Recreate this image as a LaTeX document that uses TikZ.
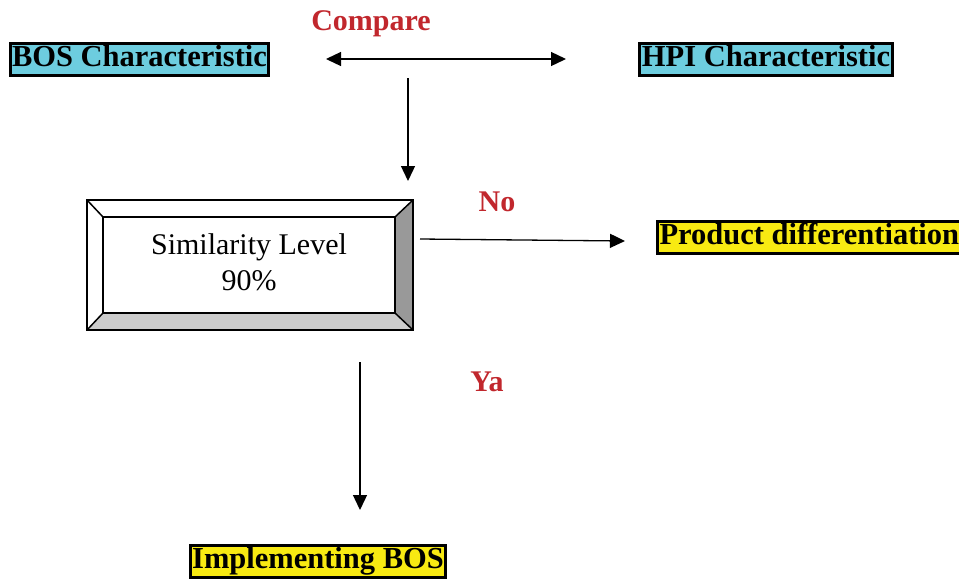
\documentclass[tikz,border=0pt]{standalone}
\usepackage{fontspec}
\setmainfont{Liberation Serif}
\usetikzlibrary{arrows.meta}

\definecolor{charcyan}{HTML}{6DCDDF}
\definecolor{resultyellow}{HTML}{F8EA12}
\definecolor{labelred}{HTML}{C1272D}

\begin{document}
\begin{tikzpicture}[x = 1pt, y = -1pt, > = {Triangle[length = 15pt, width = 14pt]},
	charbox/.style = {draw, line width = 3pt, fill = charcyan, font = \fontsize{30.5}{34}\selectfont\bfseries,
		text height = 22pt, text depth = 8pt, inner xsep = 2pt, inner ysep = 1pt},
	resultbox/.style = {charbox, fill = resultyellow},
	redlabel/.style = {text = labelred, font = \fontsize{30}{34}\selectfont\bfseries, inner sep = 0pt},
	flow/.style = {line width = 1.3pt, ->}]

	% Definitions

	\def\outl{87}		% outer frame of the similarity box
	\def\outr{413}
	\def\outt{200}
	\def\outb{330}
	\def\inl{103}		% inner face of the similarity box
	\def\inr{395}
	\def\intt{217}
	\def\inb{313}

	\useasboundingbox (0, 0) rectangle (959, 579);


	% Characteristics to be compared

	\node [charbox] (bos) at (139.5, 59) {BOS Characteristic};
	\node [charbox] (hpi) at (766, 59) {HPI Characteristic};
	\node [redlabel] (compare) at (371, 24) {Compare};

	\coordinate (cmpl) at (326, 59);
	\coordinate (cmpr) at (566, 59);
	\draw [flow, <->] (cmpl) -- (cmpr);


	% Similarity level box with bevelled frame

	\fill [white] (\outl, \outt) -- (\outr, \outt) -- (\inr, \intt) -- (\inl, \intt) -- cycle;
	\fill [white] (\outl, \outt) -- (\inl, \intt) -- (\inl, \inb) -- (\outl, \outb) -- cycle;
	\fill [black!40] (\outr, \outt) -- (\outr, \outb) -- (\inr, \inb) -- (\inr, \intt) -- cycle;
	\fill [black!20] (\outl, \outb) -- (\outr, \outb) -- (\inr, \inb) -- (\inl, \inb) -- cycle;

	\begin{scope}[line width = 1.5pt]

		\draw (\outl, \outt) rectangle (\outr, \outb);
		\draw (\inl, \intt) rectangle (\inr, \inb);
		\draw (\outl, \outt) -- (\inl, \intt);
		\draw (\outr, \outt) -- (\inr, \intt);
		\draw (\outl, \outb) -- (\inl, \inb);
		\draw (\outr, \outb) -- (\inr, \inb);

	\end{scope}

	\node [align = center, font = \fontsize{30}{36}\selectfont] (sim) at (249, 262) {Similarity Level\\90\%};

	\coordinate (cmpdown) at (408, 78);
	\coordinate (simtop) at (408, 181);
	\draw [flow] (cmpdown) -- (simtop);


	% Outcomes

	\node [resultbox, anchor = west] (diff) at (656, 237.5) {Product differentiation};
	\node [resultbox] (impl) at (318, 561) {Implementing BOS};

	\node [redlabel] (no) at (497, 202) {No};
	\node [redlabel] (ya) at (487, 382) {Ya};

	\coordinate (simright) at (420, 239);
	\coordinate (diffleft) at (625, 241);
	\draw [flow] (simright) -- (diffleft);

	\coordinate (simbottom) at (360, 362);
	\coordinate (impltop) at (360, 510);
	\draw [flow] (simbottom) -- (impltop);

\end{tikzpicture}
\end{document}
